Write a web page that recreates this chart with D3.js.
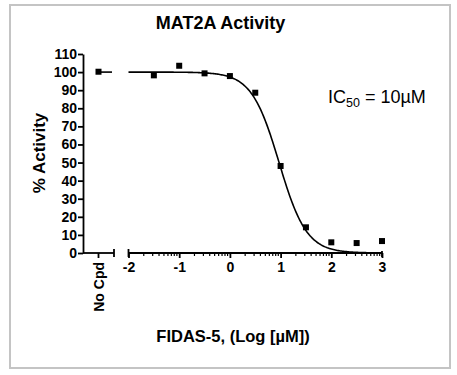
<!DOCTYPE html>
<html>
  <head>
    <meta charset="utf-8">
    <style type="text/css">
      body { margin: 0; background: #fff; }
      svg { font-family: "Liberation Sans", Arial, sans-serif; }
      .axis path, .axis line { stroke: #000; stroke-width: 1.8px; }
      .axis text { font-size: 14px; font-weight: bold; fill: #000; }
      .fit { stroke: #000; stroke-width: 1.6px; fill: none; }
    </style>
  </head>
  <body>
    <script src="https://cdn.jsdelivr.net/npm/d3@7"></script>
    <svg id="chart"></svg>

    <script type="text/javascript">
// data
var logConc = [-1.5, -1, -0.5, 0, 0.5, 1, 1.5, 2, 2.5, 3];
var activity = [98.2, 103.5, 99.3, 97.8, 88.6, 48.1, 14.2, 5.9, 5.5, 6.6];
var controlLabel = ["No Cpd"];
var controlValue = [100.2];
var yTicks = [0, 10, 20, 30, 40, 50, 60, 70, 80, 90, 100, 110];
var xTicks = [-2, -1, 0, 1, 2, 3];
// sigmoid fit parameters
var fitTop = 100, fitBottom = 0, logIC50 = 0.97, hill = 1.6, fitEnd = 2.78;

var width = 457, height = 375;
var svg = d3.select("#chart").attr("width", width).attr("height", height);

// grey frame
svg.append("rect")
  .attr("x", 10).attr("y", 5)
  .attr("width", 440).attr("height", 363)
  .attr("fill", "none")
  .attr("stroke", "#c4c4c4")
  .attr("stroke-width", 2);

var y = d3.scaleLinear().domain([0, 110]).range([253, 54]);
var xc = d3.scalePoint().domain(controlLabel).range([83, 114]).padding(0.5);
var x = d3.scaleLinear().domain([-2, 3]).range([128.5, 382]);

// y axis
var yAxis = svg.append("g")
  .attr("class", "axis")
  .attr("transform", "translate(83,0)")
  .call(d3.axisLeft(y).tickValues(yTicks).tickSize(5).tickPadding(1).tickSizeOuter(0));

// control segment of x axis
var gc = svg.append("g").attr("class", "axis");
gc.append("line").attr("x1", 83).attr("x2", 114).attr("y1", 253).attr("y2", 253);
gc.append("line").attr("x1", 114).attr("x2", 114).attr("y1", 249).attr("y2", 257);
gc.append("line").attr("x1", xc("No Cpd")).attr("x2", xc("No Cpd")).attr("y1", 253).attr("y2", 258);
gc.append("text")
  .attr("transform", "translate(" + (xc("No Cpd") + 5) + ",262) rotate(-90)")
  .attr("text-anchor", "end")
  .text("No Cpd");

// log segment of x axis
var gx = svg.append("g")
  .attr("class", "axis")
  .attr("transform", "translate(0,253)")
  .call(d3.axisBottom(x).tickValues(xTicks).tickSize(5).tickPadding(4).tickSizeOuter(0)
    .tickFormat(function(d) { return String(d); }));
gx.select(".domain").attr("d", "M" + x(-2) + ",0H" + x(3));

var minor = [];
xTicks.slice(0, -1).forEach(function(d) {
  d3.range(2, 10).forEach(function(k) { minor.push(d + Math.log10(k)); });
});
gx.selectAll("line.minor").data(minor).enter()
  .append("line")
  .attr("class", "minor")
  .attr("x1", function(d) { return x(d); })
  .attr("x2", function(d) { return x(d); })
  .attr("y1", 0).attr("y2", 3)
  .style("stroke-width", "1.2px");
gx.append("line").attr("x1", x(-2)).attr("x2", x(-2)).attr("y1", -4).attr("y2", 4);
gx.append("line").attr("x1", x(3)).attr("x2", x(3)).attr("y1", -2).attr("y2", 4);

// fitted curve
var fit = function(v) { return fitBottom + (fitTop - fitBottom) / (1 + Math.pow(10, (v - logIC50) * hill)); };
var curvePts = d3.range(-2, fitEnd, 0.02).concat([fitEnd]);
var line = d3.line()
  .x(function(d) { return x(d); })
  .y(function(d) { return y(fit(d)); });
svg.append("path").datum(curvePts).attr("class", "fit").attr("d", line);

// control line
svg.append("line")
  .attr("class", "fit")
  .attr("x1", xc("No Cpd")).attr("x2", 112)
  .attr("y1", y(fitTop)).attr("y2", y(fitTop));

// markers
var s = 6;
svg.append("g").selectAll("rect").data(logConc).enter()
  .append("rect")
  .attr("x", function(d) { return x(d) - s / 2; })
  .attr("y", function(d, i) { return y(activity[i]) - s / 2; })
  .attr("width", s).attr("height", s)
  .attr("fill", "#000");
svg.append("g").selectAll("rect").data(controlLabel).enter()
  .append("rect")
  .attr("x", function(d) { return xc(d) - s / 2; })
  .attr("y", function(d, i) { return y(controlValue[i]) - s / 2; })
  .attr("width", s).attr("height", s)
  .attr("fill", "#000");

// titles
svg.append("text")
  .attr("x", 220.5).attr("y", 29)
  .attr("text-anchor", "middle")
  .style("font-size", "18px").style("font-weight", "bold")
  .text("MAT2A Activity");

svg.append("text")
  .attr("transform", "translate(45,153) rotate(-90)")
  .attr("text-anchor", "middle")
  .style("font-size", "17px").style("font-weight", "bold")
  .text("% Activity");

svg.append("text")
  .attr("x", 233).attr("y", 342)
  .attr("text-anchor", "middle")
  .style("font-size", "16.5px").style("font-weight", "bold")
  .text("FIDAS-5, (Log [\u00b5M])");

var ic = svg.append("text")
  .attr("x", 328).attr("y", 102.5)
  .style("font-size", "18px");
ic.append("tspan").text("IC");
ic.append("tspan").attr("dy", 4).style("font-size", "12.5px").text("50");
ic.append("tspan").attr("dy", -4).text(" = 10\u00b5M");
    </script>
  </body>
</html>
